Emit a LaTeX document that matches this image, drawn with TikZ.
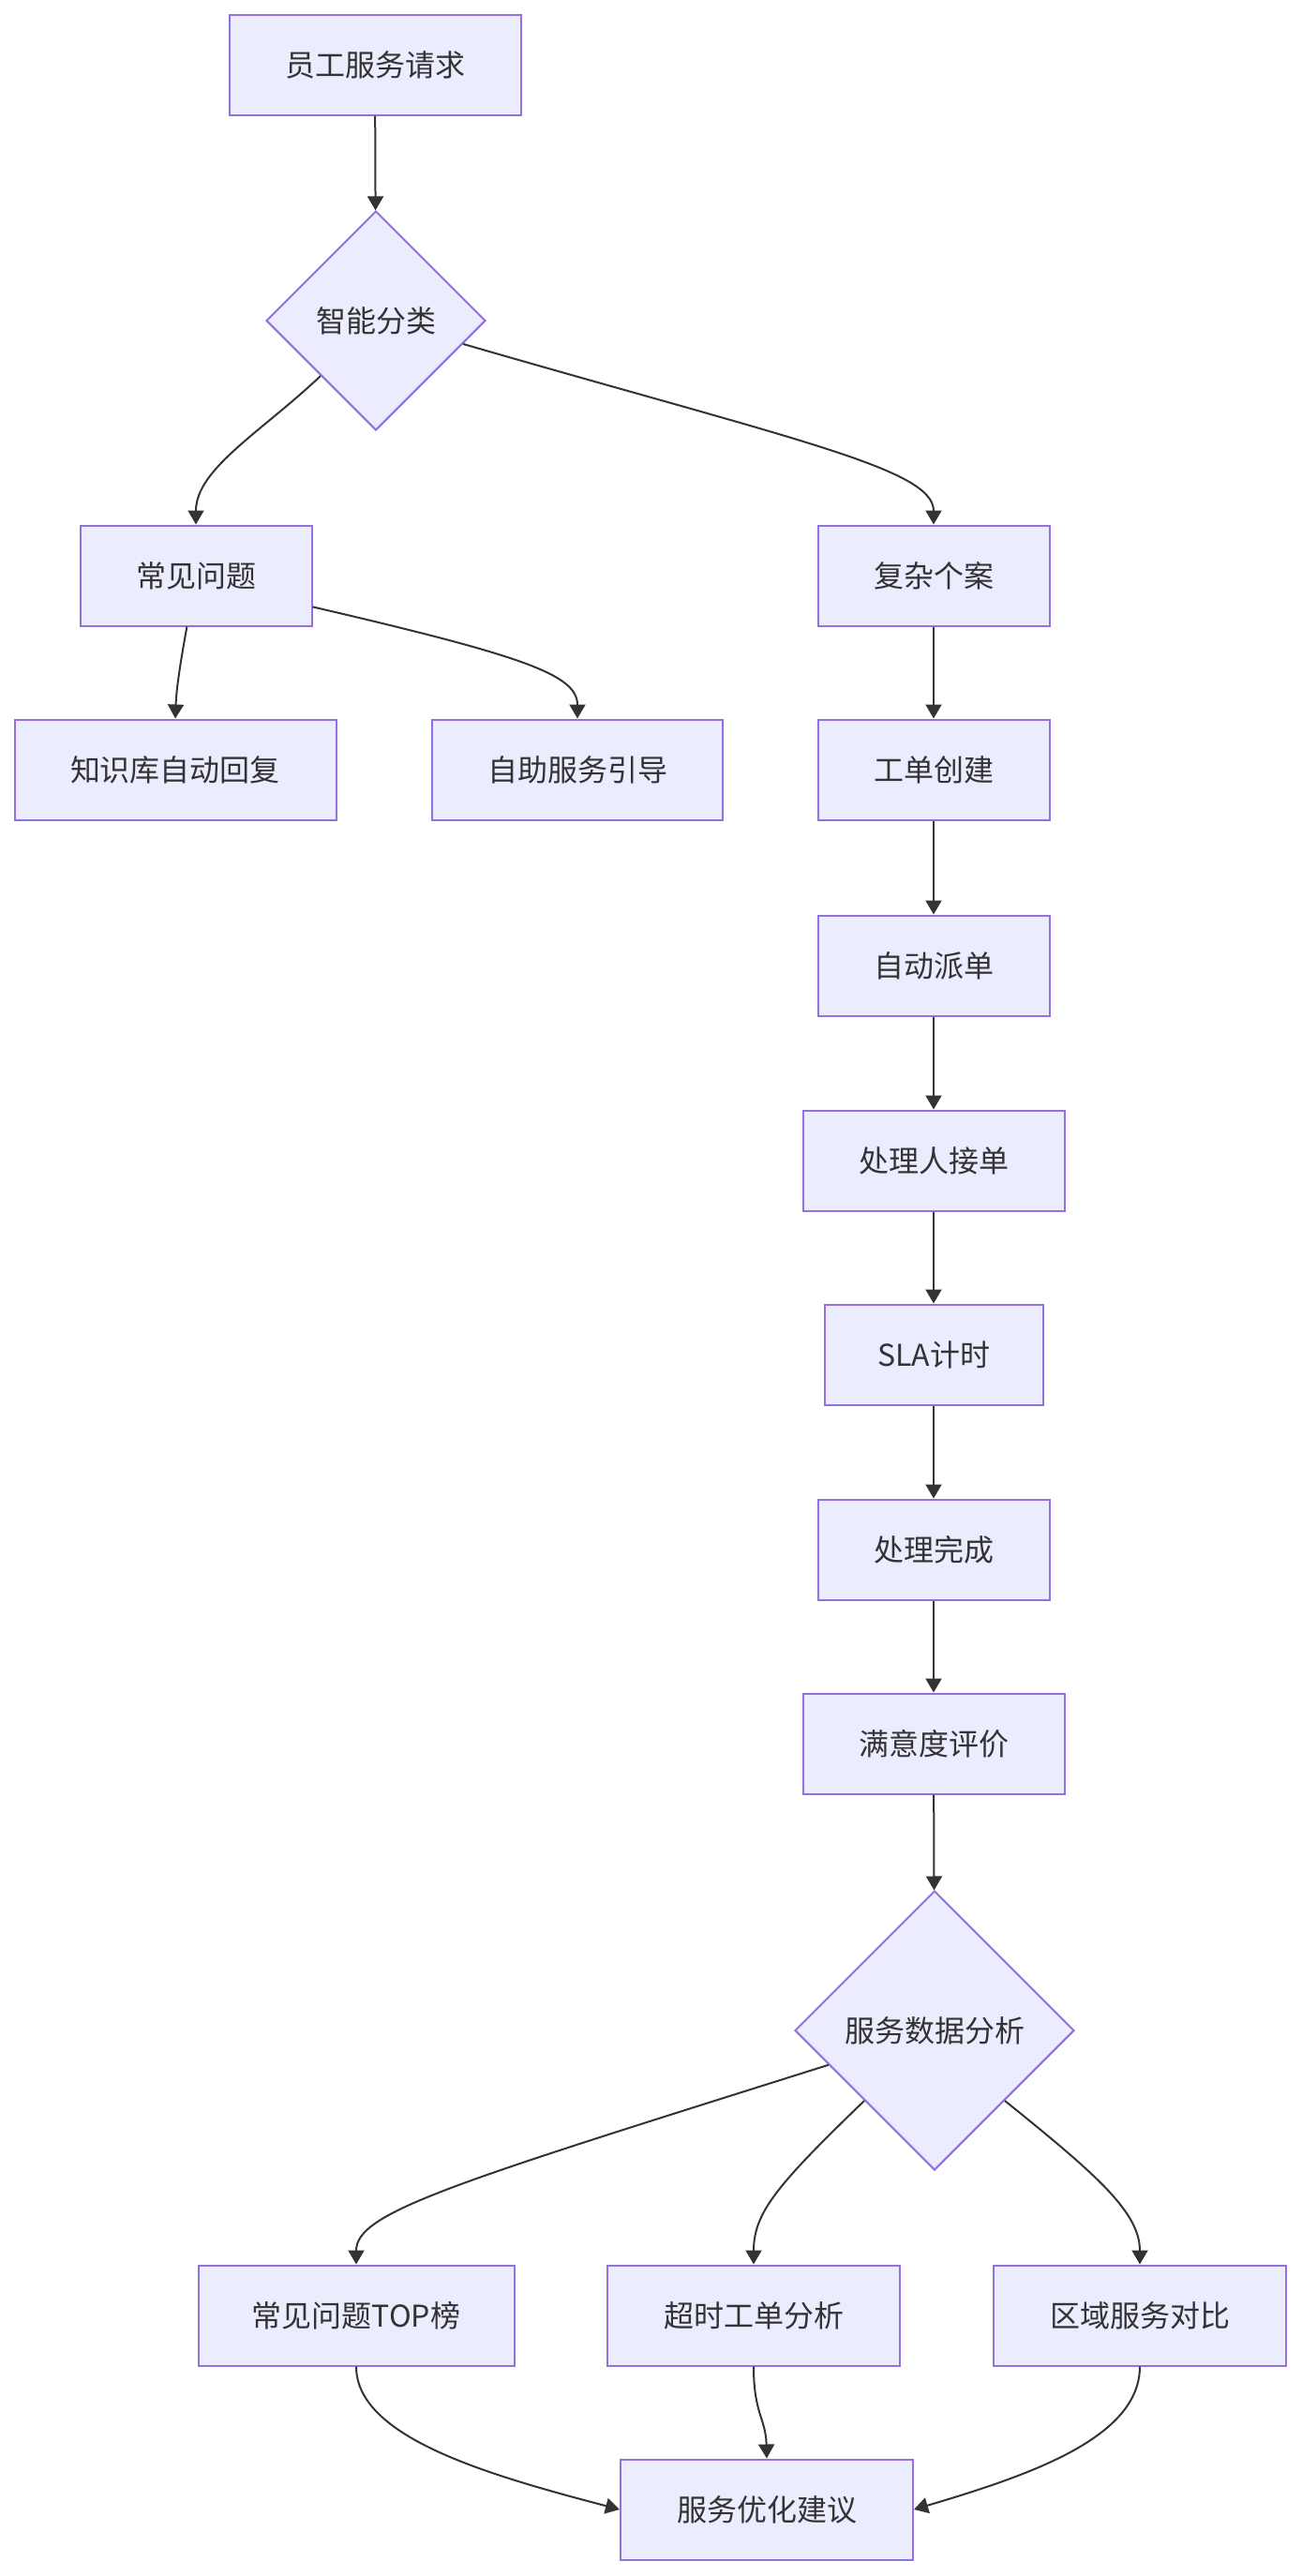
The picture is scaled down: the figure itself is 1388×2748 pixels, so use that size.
\documentclass[tikz,border=0pt]{standalone}
\usepackage{fontspec}
\setmainfont{Noto Sans CJK SC}
\usetikzlibrary{arrows.meta,shapes.geometric}
\definecolor{boxfill}{HTML}{ECECFF}
\definecolor{boxline}{HTML}{9370DB}
\definecolor{ink}{HTML}{333333}
\begin{document}
\begin{tikzpicture}[x=0.5pt,y=-0.5pt,
  procbox/.style={draw=boxline,fill=boxfill,line width=1pt,minimum height=53.5pt,inner sep=0pt,font=\fontsize{16pt}{19pt}\selectfont,text=ink},
  decbox/.style={diamond,aspect=1,draw=boxline,fill=boxfill,line width=1pt,inner sep=0pt,font=\fontsize{16pt}{19pt}\selectfont,text=ink},
  link/.style={draw=ink,line width=1pt,-{Triangle[length=7.5pt,width=8.5pt]}}]
\useasboundingbox (0,0) rectangle (1388,2748);
\fill[white] (0,0) rectangle (1388,2748);
\node[procbox,minimum width=155.5pt] (A) at (400,69) {员工服务请求};
\node[decbox,minimum width=117pt,minimum height=117pt] (B) at (401,342) {智能分类};
\node[procbox,minimum width=123.5pt] (C) at (209,614) {常见问题};
\node[procbox,minimum width=123.5pt] (D) at (996,614) {复杂个案};
\node[procbox,minimum width=171.5pt] (E) at (187,821) {知识库自动回复};
\node[procbox,minimum width=155pt] (F) at (616,821) {自助服务引导};
\node[procbox,minimum width=123.5pt] (G) at (996,821) {工单创建};
\node[procbox,minimum width=123.5pt] (H) at (996,1030) {自动派单};
\node[procbox,minimum width=139.5pt] (I) at (996,1238) {处理人接单};
\node[procbox,minimum width=116.5pt] (J) at (996,1445) {SLA计时};
\node[procbox,minimum width=123.5pt] (K) at (996,1653) {处理完成};
\node[procbox,minimum width=139.5pt] (L) at (996,1860) {满意度评价};
\node[decbox,minimum width=149pt,minimum height=149pt] (M) at (997,2166) {服务数据分析};
\node[procbox,minimum width=168.5pt] (N) at (380,2470) {常见问题TOP榜};
\node[procbox,minimum width=156pt] (O) at (804,2470) {超时工单分析};
\node[procbox,minimum width=156pt] (P) at (1216,2470) {区域服务对比};
\node[procbox,minimum width=156pt] (Q) at (818,2677) {服务优化建议};

\draw[link] (A) -- (B);
\draw[link] (B.south west) .. controls (280,460) and (209,500) .. (C.north);
\draw[link] (B.-15) .. controls (850,470) and (996,500) .. (D.north);
\draw[link] (C.-100) .. controls (190,720) and (188,740) .. (E.north);
\draw[link] (C.-15) .. controls (560,700) and (616,720) .. (F.north);
\draw[link] (D) -- (G);
\draw[link] (G) -- (H);
\draw[link] (H) -- (I);
\draw[link] (I) -- (J);
\draw[link] (J) -- (K);
\draw[link] (K) -- (L);
\draw[link] (L) -- (M);
\draw[link] (M.198) .. controls (480,2330) and (380,2360) .. (N.north);
\draw[link] (M.south west) .. controls (830,2330) and (804,2360) .. (O.north);
\draw[link] (M.south east) .. controls (1170,2320) and (1216,2360) .. (P.north);
\draw[link] (N.south) .. controls (380,2600) and (520,2640) .. (Q.west);
\draw[link] (O.south) .. controls (804,2575) and (817,2580) .. (Q.north);
\draw[link] (P.south) .. controls (1216,2600) and (1100,2640) .. (Q.east);
\end{tikzpicture}
\end{document}
